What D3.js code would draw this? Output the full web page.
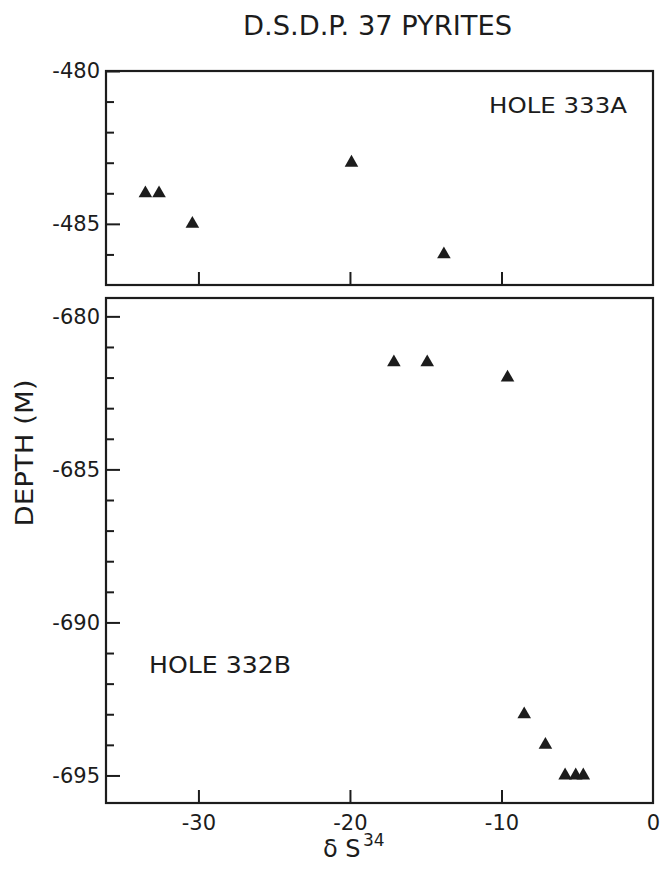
<!DOCTYPE html>
<html>
<head>
<meta charset="utf-8">
<script src="https://cdn.jsdelivr.net/npm/d3@7"></script>
<style>
  html, body { margin: 0; padding: 0; background: #ffffff; }
  svg { display: block; }
</style>
</head>
<body>
<svg id="chart" width="667" height="871"></svg>
<script>
// ---- data ----
const topX = [-33.5, -32.6, -30.4, -19.9, -13.8];
const topY = [-484, -484, -485, -483, -486];
const bottomX = [-17.1, -14.9, -9.6, -8.5, -7.1, -5.8, -5.1, -4.6];
const bottomY = [-681.5, -681.5, -682, -693, -694, -695, -695, -695];
const xTickValues = [-30, -20, -10, 0];
const topMajorTicks = [-480, -485];
const topMinorTicks = [-481, -482, -483, -484, -486];
const bottomMajorTicks = [-680, -685, -690, -695];
const bottomMinorTicks = [-681, -682, -683, -684, -686, -687, -688, -689, -691, -692, -693, -694];
const titleText = "D.S.D.P. 37  PYRITES";
const topLabel = "HOLE 333A";
const bottomLabel = "HOLE 332B";
const yTitle = "DEPTH  (M)";
const xTitle = "δ S";
const xTitleSup = "34";

// ---- layout ----
const ink = "#1c1c1c";
const font = "'DejaVu Sans', 'Liberation Sans', sans-serif";
const left = 106, right = 653;
const topPanel = { y0: 71, y1: 285 };
const botPanel = { y0: 298, y1: 803 };
const fmt = d => String(d);   // plain hyphen-minus as in the original

const svg = d3.select("#chart");

const x = d3.scaleLinear().domain([-36.1, 0]).range([left, right]);
const yTop = d3.scaleLinear().domain([-480, -487]).range([topPanel.y0, topPanel.y1]);
const yBot = d3.scaleLinear().domain([-679.4, -695.9]).range([botPanel.y0, botPanel.y1]);

const tri = d3.symbol().type(d3.symbolTriangle).size(80);

function panel(yScale, p, major, minor, xs, ys, showXLabels) {
  const g = svg.append("g");
  g.append("g")
    .attr("transform", `translate(${left},0)`)
    .call(d3.axisLeft(yScale).tickValues(minor).tickSizeInner(-8).tickSizeOuter(0).tickFormat(""))
    .call(a => a.select(".domain").remove())
    .call(a => a.selectAll("line").attr("stroke", ink).attr("stroke-width", 2));
  g.append("g")
    .attr("transform", `translate(${left},0)`)
    .call(d3.axisLeft(yScale).tickValues(major).tickSizeInner(-14).tickSizeOuter(0).tickPadding(6).tickFormat(fmt))
    .call(a => a.select(".domain").remove())
    .call(a => a.selectAll("line").attr("stroke", ink).attr("stroke-width", 2))
    .call(a => a.selectAll("text").attr("fill", ink).style("font-family", font).style("font-size", "21px"));
  g.append("g")
    .attr("transform", `translate(0,${p.y1})`)
    .call(d3.axisBottom(x).tickValues(xTickValues).tickSizeInner(-13).tickSizeOuter(0).tickPadding(12)
      .tickFormat(showXLabels ? fmt : ""))
    .call(a => a.select(".domain").remove())
    .call(a => a.selectAll("line").attr("stroke", ink).attr("stroke-width", 2)
      .filter(d => d === 0).remove())
    .call(a => a.selectAll("text").attr("fill", ink).style("font-family", font).style("font-size", "21px"));
  g.append("rect")
    .attr("x", left).attr("y", p.y0)
    .attr("width", right - left).attr("height", p.y1 - p.y0)
    .attr("fill", "none").attr("stroke", ink).attr("stroke-width", 2.2);
  g.selectAll("path.pt")
    .data(xs.map((v, i) => [v, ys[i]]))
    .join("path")
    .attr("class", "pt")
    .attr("d", tri)
    .attr("transform", d => `translate(${x(d[0])},${yScale(d[1])})`)
    .attr("fill", ink);
  return g;
}

panel(yTop, topPanel, topMajorTicks, topMinorTicks, topX, topY, false);
panel(yBot, botPanel, bottomMajorTicks, bottomMinorTicks, bottomX, bottomY, true);

svg.append("text")
  .attr("x", 243).attr("y", 35)
  .attr("textLength", 269).attr("lengthAdjust", "spacingAndGlyphs")
  .attr("fill", ink).style("font-family", font).style("font-size", "27px")
  .text(titleText);

svg.append("text")
  .attr("x", 489).attr("y", 113)
  .attr("textLength", 138).attr("lengthAdjust", "spacingAndGlyphs")
  .attr("fill", ink).style("font-family", font).style("font-size", "22px")
  .text(topLabel);
svg.append("text")
  .attr("x", 149).attr("y", 673)
  .attr("textLength", 142).attr("lengthAdjust", "spacingAndGlyphs")
  .attr("fill", ink).style("font-family", font).style("font-size", "23px")
  .text(bottomLabel);

svg.append("text")
  .attr("transform", "translate(33,453) rotate(-90)")
  .attr("text-anchor", "middle")
  .attr("textLength", 147).attr("lengthAdjust", "spacingAndGlyphs")
  .attr("fill", ink).style("font-family", font).style("font-size", "24px")
  .text(yTitle);

svg.append("text")
  .attr("x", 323).attr("y", 857)
  .attr("fill", ink).style("font-family", font).style("font-size", "24px")
  .text(xTitle);
svg.append("text")
  .attr("x", 363).attr("y", 846)
  .attr("fill", ink).style("font-family", font).style("font-size", "17px")
  .text(xTitleSup);
</script>
</body>
</html>
